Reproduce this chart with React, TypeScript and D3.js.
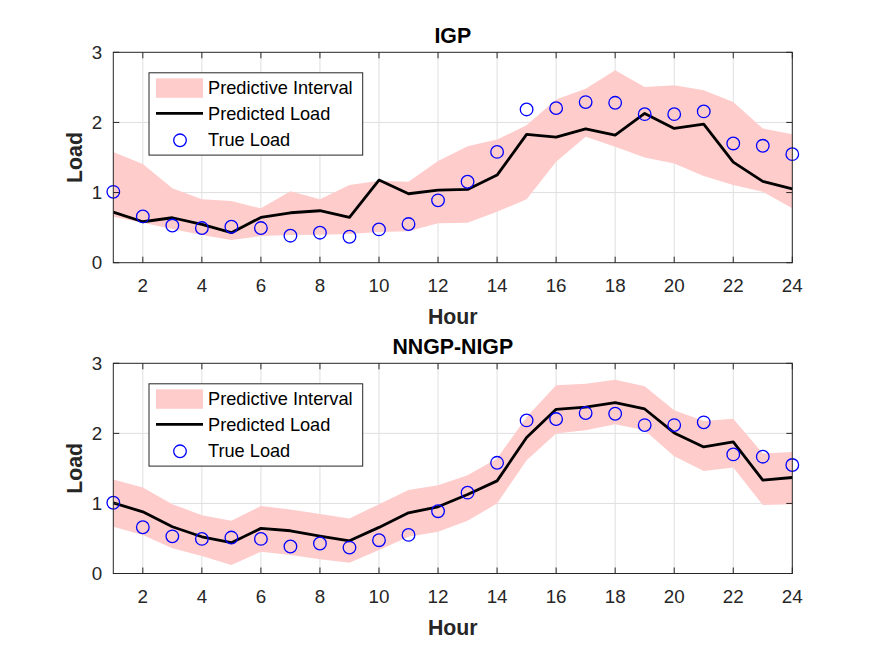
import React from "react";
import * as d3 from "d3";

const hours = d3.range(1, 25);
const xTicks = [2, 4, 6, 8, 10, 12, 14, 16, 18, 20, 22, 24];
const yTicks = [0, 1, 2, 3];

const trueLoad = [1.01, 0.66, 0.53, 0.494, 0.513, 0.494, 0.385, 0.428, 0.37, 0.475, 0.551, 0.889,
  1.154, 1.58, 2.185, 2.204, 2.29, 2.28, 2.118, 2.118, 2.157, 1.70, 1.667, 1.548];

const igpMean = [0.722, 0.584, 0.641, 0.546, 0.428, 0.646, 0.712, 0.741, 0.646, 1.178, 0.983, 1.036,
  1.045, 1.249, 1.829, 1.79, 1.909, 1.819, 2.128, 1.914, 1.976, 1.434, 1.16, 1.054];
const igpUpper = [1.58, 1.406, 1.06, 0.903, 0.879, 0.775, 1.02, 0.903, 1.107, 1.168, 1.154, 1.45,
  1.66, 1.757, 1.96, 2.327, 2.48, 2.745, 2.507, 2.53, 2.46, 2.293, 1.914, 1.833];
const igpLower = [0.655, 0.57, 0.48, 0.395, 0.323, 0.38, 0.395, 0.40, 0.409, 0.437, 0.447, 0.561,
  0.57, 0.726, 0.903, 1.44, 1.795, 1.652, 1.50, 1.416, 1.235, 1.107, 1.01, 0.775];

const nnMean = [1.009, 0.88, 0.667, 0.524, 0.439, 0.644, 0.61, 0.534, 0.467, 0.658, 0.866, 0.952,
  1.128, 1.322, 1.94, 2.343, 2.376, 2.439, 2.348, 2.006, 1.806, 1.878, 1.332, 1.37];
const nnUpper = [1.342, 1.228, 0.99, 0.833, 0.752, 0.962, 0.914, 0.848, 0.786, 0.99, 1.19, 1.261,
  1.403, 1.641, 2.234, 2.685, 2.709, 2.766, 2.671, 2.329, 2.177, 2.21, 1.712, 1.735];
const nnLower = [0.667, 0.548, 0.359, 0.249, 0.121, 0.311, 0.264, 0.202, 0.154, 0.335, 0.524, 0.595,
  0.752, 1.0, 1.617, 1.997, 2.044, 2.13, 2.044, 1.674, 1.464, 1.513, 0.976, 0.99];

const legendLabels = ["Predictive Interval", "Predicted Load", "True Load"];

const FONT = "'Liberation Sans', Arial, Helvetica, sans-serif";
const AXIS = "#262626";

type PanelProps = {
  title: string;
  top: number;
  bottom: number;
  mean: number[];
  upper: number[];
  lower: number[];
};

function Panel({ title, top, bottom, mean, upper, lower }: PanelProps) {
  const left = 113.3;
  const right = 792.3;
  const x = d3.scaleLinear().domain([1, 24]).range([left, right]);
  const y = d3.scaleLinear().domain([0, 3]).range([bottom, top]);

  const band = d3
    .area<number>()
    .x((d) => x(d))
    .y0((d) => y(lower[d - 1]))
    .y1((d) => y(upper[d - 1]));
  const line = d3
    .line<number>()
    .x((d) => x(d))
    .y((d) => y(mean[d - 1]));

  const tick = 6;
  const lx = 149;
  const ly = top + 20.5;
  const lw = 213.7;
  const lh = 82.3;

  return (
    <g>
      {/* grid */}
      {xTicks.map((t) => (
        <line key={"gx" + t} x1={x(t)} x2={x(t)} y1={top} y2={bottom} stroke="#dfdfdf" strokeWidth={1} />
      ))}
      {yTicks.slice(1, -1).map((t) => (
        <line key={"gy" + t} x1={left} x2={right} y1={y(t)} y2={y(t)} stroke="#dfdfdf" strokeWidth={1} />
      ))}

      <path d={band(hours) || ""} fill="#ffcccc" stroke="none" />
      <path d={line(hours) || ""} fill="none" stroke="#000" strokeWidth={2.8} strokeLinejoin="round" />
      {hours.map((h) => (
        <circle key={"c" + h} cx={x(h)} cy={y(trueLoad[h - 1])} r={6.3} fill="none" stroke="#0000ff" strokeWidth={1.3} />
      ))}

      {/* axes box and ticks */}
      <rect x={left} y={top} width={right - left} height={bottom - top} fill="none" stroke={AXIS} strokeWidth={1} />
      {xTicks.map((t) => (
        <g key={"tx" + t}>
          <line x1={x(t)} x2={x(t)} y1={bottom} y2={bottom - tick} stroke={AXIS} />
          <line x1={x(t)} x2={x(t)} y1={top} y2={top + tick} stroke={AXIS} />
          <text x={x(t)} y={bottom + 29.5} textAnchor="middle" fontSize={18.8} fill={AXIS} fontFamily={FONT}>
            {t}
          </text>
        </g>
      ))}
      {yTicks.map((t) => (
        <g key={"ty" + t}>
          <line x1={left} x2={left + tick} y1={y(t)} y2={y(t)} stroke={AXIS} />
          <line x1={right} x2={right - tick} y1={y(t)} y2={y(t)} stroke={AXIS} />
          <text x={left - 11} y={y(t) + 6.5} textAnchor="end" fontSize={18.8} fill={AXIS} fontFamily={FONT}>
            {t}
          </text>
        </g>
      ))}

      <text x={(left + right) / 2} y={top - 9} textAnchor="middle" fontSize={21.3} fontWeight="bold" fill="#000" fontFamily={FONT}>
        {title}
      </text>
      <text x={(left + right) / 2} y={bottom + 61} textAnchor="middle" fontSize={21.3} fontWeight="bold" fill={AXIS} fontFamily={FONT}>
        Hour
      </text>
      <text
        transform={`translate(${82},${(top + bottom) / 2}) rotate(-90)`}
        textAnchor="middle"
        fontSize={21.3}
        fontWeight="bold"
        fill={AXIS}
        fontFamily={FONT}
      >
        Load
      </text>

      {/* legend */}
      <rect x={lx} y={ly} width={lw} height={lh} fill="#fff" stroke={AXIS} strokeWidth={1} />
      <rect x={lx + 7} y={ly + 5.5} width={47} height={19.5} fill="#ffcccc" />
      <line x1={lx + 7} x2={lx + 54} y1={ly + 40.5} y2={ly + 40.5} stroke="#000" strokeWidth={2.8} />
      <circle cx={lx + 31} cy={ly + 67.5} r={6.3} fill="none" stroke="#0000ff" strokeWidth={1.3} />
      {legendLabels.map((s, i) => (
        <text key={s} x={lx + 59} y={ly + 21.5 + i * 26} fontSize={18.2} fill="#000" fontFamily={FONT}>
          {s}
        </text>
      ))}
    </g>
  );
}

export default function App() {
  return (
    <svg
      width={875}
      height={657}
      style={{ position: "absolute", left: 0, top: 0, background: "#fff" }}
    >
      <rect width={875} height={657} fill="#fff" />
      <Panel title="IGP" top={52.3} bottom={262.7} mean={igpMean} upper={igpUpper} lower={igpLower} />
      <Panel title="NNGP-NIGP" top={363.3} bottom={573.5} mean={nnMean} upper={nnUpper} lower={nnLower} />
    </svg>
  );
}
